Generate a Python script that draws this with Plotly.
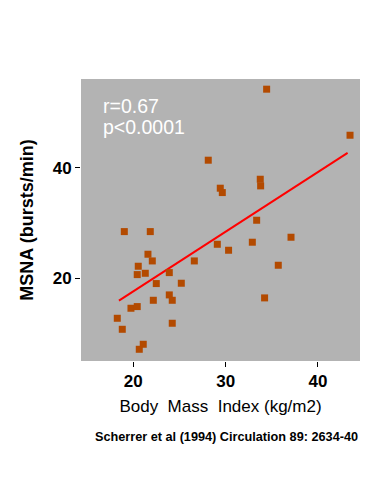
import plotly.graph_objects as go

bmi = [34.44, 43.47, 28.12, 33.75, 33.79, 29.42, 29.64, 33.36, 19.03, 21.84,
       37.08, 29.10, 32.89, 30.32, 21.59, 22.06, 26.61, 20.54, 20.43, 21.30,
       23.90, 35.70, 22.49, 25.20, 23.90, 24.22, 22.17, 34.22, 19.75, 20.43,
       18.27, 18.81, 24.22, 21.08, 20.65]
msna = [54.16, 45.84, 41.33, 37.89, 36.69, 36.27, 35.48, 30.48, 28.43, 28.43,
        27.41, 26.14, 26.51, 25.06, 24.34, 23.13, 23.13, 22.17, 20.66, 20.90,
        21.02, 22.35, 19.04, 19.10, 16.99, 16.02, 16.02, 16.45, 14.58, 14.88,
        12.77, 10.78, 11.87, 8.07, 7.17]

fit_x = [18.45, 43.21]
fit_y = [15.96, 42.65]

x_ticks = [20, 30, 40]
y_ticks = [20, 40]

stats_lines = ["r=0.67", "p&lt;0.0001"]

fig = go.Figure()
fig.add_trace(go.Scatter(x=fit_x, y=fit_y, mode="lines",
                         line=dict(color="#ff0000", width=2), hoverinfo="skip"))
fig.add_trace(go.Scatter(x=bmi, y=msna, mode="markers",
                         marker=dict(symbol="square", size=7, color="#b34a00",
                                     line=dict(width=0))))

annotations = []
for i, txt in enumerate(stats_lines):
    annotations.append(dict(text=txt, xref="paper", yref="paper", x=0.072, y=0.903 - i * 0.0745,
                            xanchor="left", yanchor="middle", showarrow=False, align="left",
                            font=dict(size=19.5, color="white")))
annotations.append(dict(text="<b>Scherrer et al (1994) Circulation 89: 2634-40</b>", xref="paper",
                        yref="paper", x=0.52, y=-0.27, xanchor="center", yanchor="middle",
                        showarrow=False, font=dict(size=12.7, family="Liberation Sans, Arial")))

fig.update_layout(
    width=376, height=486,
    margin=dict(l=81, r=16, t=79, b=125, autoexpand=False),
    paper_bgcolor="white", plot_bgcolor="#b3b3b3",
    showlegend=False,
    font=dict(family="Liberation Sans, Arial, sans-serif", color="black"),
    xaxis=dict(range=[14.34, 44.55], tickvals=x_ticks, ticktext=["<b>%d</b>" % v for v in x_ticks],
               ticks="outside", ticklen=5, tickcolor="black", showgrid=False, zeroline=False,
               showline=False, tickfont=dict(size=17), automargin=False,
               title=dict(text="Body  Mass  Index (kg/m2)", font=dict(size=17), standoff=9)),
    yaxis=dict(range=[5.05, 56.0], tickvals=y_ticks, ticktext=["<b>%d</b>" % v for v in y_ticks],
               ticks="outside", ticklen=5, tickcolor="black", showgrid=False, zeroline=False,
               showline=False, tickfont=dict(size=17), automargin=False,
               title=dict(text="<b>MSNA (bursts/min)</b>", font=dict(size=18), standoff=14)),
    annotations=annotations,
)

fig.write_html("out.html", config={"displayModeBar": False},
               post_script="document.body.style.margin='0';document.body.style.overflow='hidden';")
